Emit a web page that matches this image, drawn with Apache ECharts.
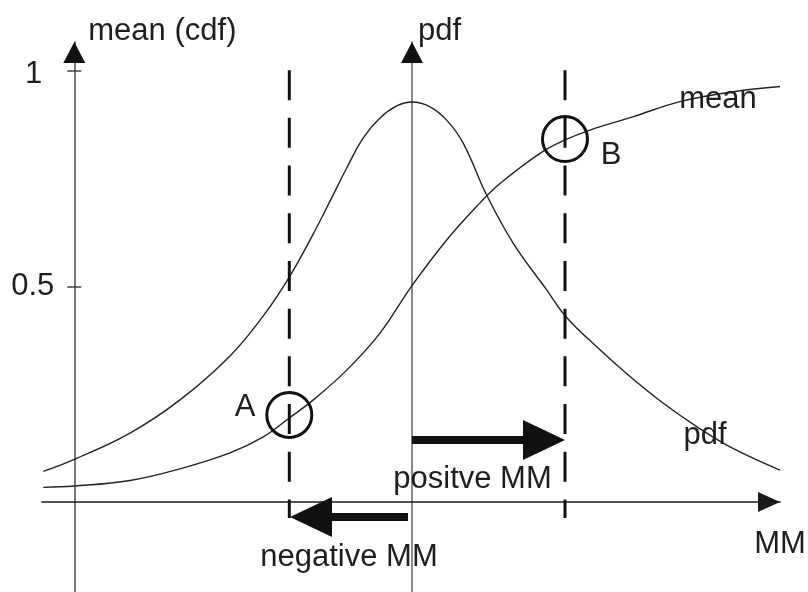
<!DOCTYPE html>
<html>
<head>
<meta charset="utf-8">
<script src="https://cdn.jsdelivr.net/npm/echarts@6/dist/echarts.min.js"></script>
<style>html,body{margin:0;padding:0;background:#fff}#c{width:808px;height:592px}</style>
</head>
<body>
<div id="c"></div>
<script>
// ---- data (x: MM in arbitrary units, 0 = centre; y: normalised 0..1) ----
const pdfX = [-3.687, -3.377, -2.82, -2.32, -1.82, -1.487, -1.227, -0.987, -0.82, -0.653, -0.487, -0.32, -0.153, 0,
              0.18, 0.347, 0.513, 0.747, 1.013, 1.347, 1.54, 1.847, 2.18, 2.513, 2.847, 3.18, 3.68];
const pdfY = [0.071, 0.099, 0.160, 0.237, 0.339, 0.432, 0.522, 0.622, 0.698, 0.775, 0.845, 0.891, 0.919, 0.928,
              0.917, 0.886, 0.832, 0.712, 0.600, 0.492, 0.430, 0.360, 0.291, 0.229, 0.175, 0.128, 0.074];
const cdfX = [-3.687, -3.377, -2.82, -2.32, -1.82, -1.487, -1.227, -0.987, -0.653, -0.32, 0,
              0.347, 0.68, 0.88, 1.28, 1.53, 1.78, 2.213, 2.68, 3.213, 3.68];
const cdfY = [0.034, 0.037, 0.050, 0.077, 0.114, 0.151, 0.195, 0.237, 0.306, 0.392, 0.502,
              0.608, 0.694, 0.739, 0.809, 0.840, 0.863, 0.894, 0.929, 0.952, 0.964];
const yTicks = [0.5, 1];
const markerX = [-1.227, 1.53];      // A, B
const markerY = [0.202, 0.842];
const dashTop = 1.002, dashBottom = -0.037;
const arrowStart = [0, -0.04];
const arrowEnd = [1.53, -1.22];
const arrowLevel = [0.144, -0.035];
const noteText = ['mean', 'pdf', 'positve MM', 'negative MM', 'A', 'B'];
const noteX = [3.06, 2.93, 0.605, -0.63, -1.67, 1.99];
const noteY = [0.934, 0.154, 0.052, -0.128, 0.220, 0.803];
const X_MIN = -3.7, X_MAX = 3.68, Y_MIN = -0.2088, Y_MAX = 1.0673;

// ---- chart ----
const FONT = 'Liberation Sans, Arial, Helvetica, sans-serif';
const FS = 31;
const TXT = '#1e1e1e';
const chart = echarts.init(document.getElementById('c'), null, {renderer: 'canvas'});

function yAxisBase(extra) {
  return Object.assign({
    type: 'value', min: Y_MIN, max: Y_MAX, position: 'left',
    splitLine: {show: false}, axisLabel: {show: false}, axisTick: {show: false}
  }, extra);
}
const LEFT_OFF = -32.3, MID_OFF = -370;

const option = {
  animation: false,
  backgroundColor: '#fff',
  textStyle: {fontFamily: FONT},
  grid: {left: 42, right: 28, top: 42, bottom: 0, containLabel: false, outerBoundsMode: 'none'},
  xAxis: {
    type: 'value', min: X_MIN, max: X_MAX,
    splitLine: {show: false}, axisTick: {show: false}, axisLabel: {show: false},
    axisLine: {show: true, onZero: true, symbol: ['none', 'triangle'], symbolSize: [20, 22], symbolOffset: [0, -11],
               lineStyle: {color: '#1a1a1a', width: 1.6}},
    name: 'MM', nameLocation: 'end', nameGap: 0,
    nameTextStyle: {fontSize: FS, fontFamily: FONT, color: TXT, align: 'center', verticalAlign: 'top', padding: [27, 0, 0, 0]}
  },
  yAxis: [
    yAxisBase({
      offset: LEFT_OFF,
      axisLine: {show: true, onZero: false, lineStyle: {color: '#555', width: 1.6}},
      axisTick: {show: true, inside: false, length: 7, customValues: yTicks, lineStyle: {color: '#444', width: 1.5}},
      axisLabel: {show: true, customValues: yTicks, margin: 20, fontSize: FS, fontFamily: FONT, color: TXT,
                  formatter: v => (v === 1 ? '{one|1}' : String(v)),
                  rich: {one: {fontSize: FS, fontFamily: FONT, color: TXT, padding: [6, 12, 0, 0]}}},
      name: 'mean (cdf)', nameLocation: 'end', nameGap: 11,
      nameTextStyle: {fontSize: FS, fontFamily: FONT, color: TXT, align: 'left', verticalAlign: 'middle', padding: [0, 0, 0, 14]}
    }),
    yAxisBase({
      offset: MID_OFF,
      axisLine: {show: true, onZero: false, lineStyle: {color: '#8a8a8a', width: 2}},
      name: 'pdf', nameLocation: 'end', nameGap: 11,
      nameTextStyle: {fontSize: FS, fontFamily: FONT, color: TXT, align: 'left', verticalAlign: 'middle', padding: [0, 0, 0, 6]}
    }),
    // inner half of the crossing ticks on the left axis
    yAxisBase({
      offset: LEFT_OFF,
      axisLine: {show: false, onZero: false},
      axisTick: {show: true, inside: true, length: 7, customValues: yTicks, lineStyle: {color: '#444', width: 1.5}}
    }),
    // black arrow heads on the vertical axes
    yAxisBase({
      offset: LEFT_OFF,
      axisLine: {show: true, onZero: false, symbol: ['none', 'triangle'], symbolSize: [22, 21], symbolOffset: [0, -10.5],
                 lineStyle: {color: '#111', width: 0}}
    }),
    yAxisBase({
      offset: MID_OFF,
      axisLine: {show: true, onZero: false, symbol: ['none', 'triangle'], symbolSize: [22, 21], symbolOffset: [0, -10.5],
                 lineStyle: {color: '#111', width: 0}}
    })
  ],
  series: [
    {
      name: 'pdf', type: 'line', smooth: 0.4, symbol: 'none', z: 3,
      lineStyle: {color: '#222', width: 1.4},
      data: pdfX.map((x, i) => [x, pdfY[i]])
    },
    {
      name: 'mean', type: 'line', smooth: 0.4, symbol: 'none', z: 3,
      lineStyle: {color: '#222', width: 1.4},
      data: cdfX.map((x, i) => [x, cdfY[i]])
    },
    ...markerX.map(x => ({
      type: 'line', symbol: 'none', z: 4,
      lineStyle: {color: '#111', width: 3, type: [30, 17.7], dashOffset: 0, cap: 'butt'},
      data: [[x, dashTop], [x, dashBottom]]
    })),
    {
      type: 'scatter', z: 5, symbol: 'circle', symbolSize: 45,
      itemStyle: {color: 'rgba(0,0,0,0)', borderColor: '#111', borderWidth: 3, opacity: 1},
      data: markerX.map((x, i) => [x, markerY[i]])
    },
    {
      type: 'custom', z: 6,
      data: arrowStart.map((s, i) => [s, arrowEnd[i], arrowLevel[i]]),
      encode: {x: [0, 1], y: 2},
      renderItem: function (params, api) {
        const s = api.coord([api.value(0), api.value(2)]);
        const e = api.coord([api.value(1), api.value(2)]);
        const dir = e[0] > s[0] ? 1 : -1;
        const headLen = 42, headW = 40;
        const bx = e[0] - dir * (headLen - 2);
        return {
          type: 'group',
          children: [
            {type: 'line', shape: {x1: s[0], y1: s[1], x2: bx, y2: e[1]},
             style: {stroke: '#111', lineWidth: 8, lineCap: 'butt'}},
            {type: 'polygon', shape: {points: [[e[0], e[1]], [e[0] - dir * headLen, e[1] - headW / 2], [e[0] - dir * headLen, e[1] + headW / 2]]},
             style: {fill: '#111'}}
          ]
        };
      }
    },
    {
      type: 'custom', z: 7, silent: true,
      data: noteX.map((x, i) => [x, noteY[i]]),
      encode: {x: 0, y: 1},
      renderItem: function (params, api) {
        const p = api.coord([api.value(0), api.value(1)]);
        return {
          type: 'text', x: p[0], y: p[1],
          style: {text: noteText[params.dataIndex], fontSize: FS, fontFamily: FONT, fill: TXT,
                  align: 'center', verticalAlign: 'middle'}
        };
      }
    }
  ]
};
chart.setOption(option);
</script>
</body>
</html>
